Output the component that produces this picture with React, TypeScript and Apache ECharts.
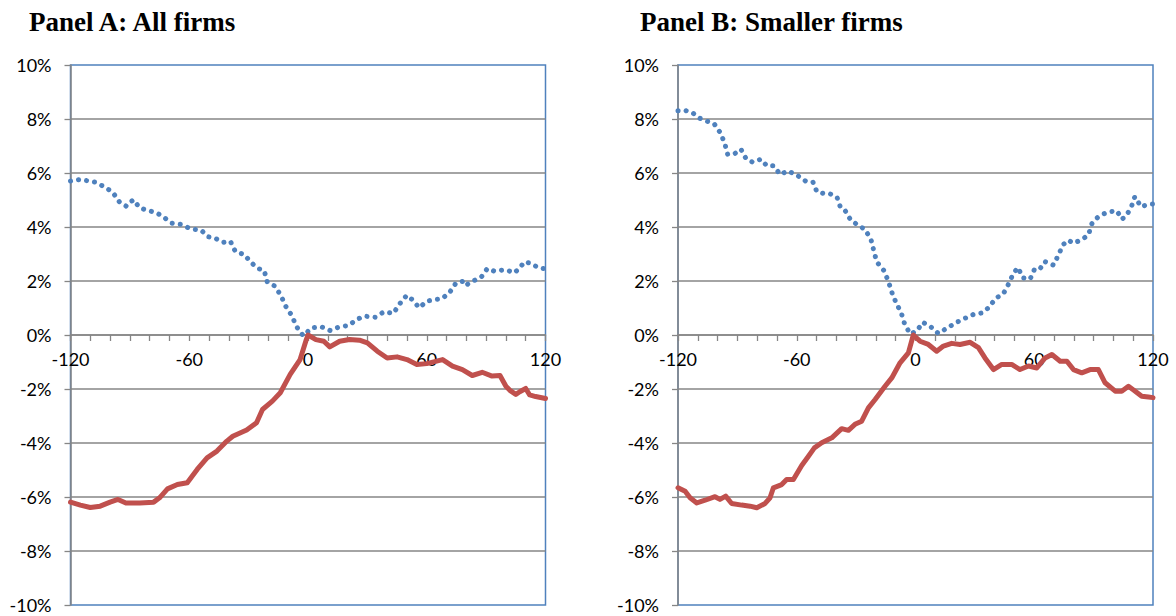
import React, { useEffect, useRef } from "react";
import * as echarts from "echarts";

// Panel A: All firms
const redDaysA = [-120, -115, -110, -105, -100, -96, -92, -85, -78, -75, -71, -66, -61, -56, -51, -46, -41, -38, -31, -26, -23, -18, -14, -9, -4, -1, 0, 4, 8, 11, 16, 21, 26, 30, 35, 40, 45, 50, 55, 60, 68, 73, 78, 83, 88, 93, 97, 100, 102, 105, 107, 110, 112, 115, 120];
const redValsA = [-6.19, -6.3, -6.39, -6.34, -6.19, -6.09, -6.22, -6.22, -6.19, -6.03, -5.7, -5.54, -5.47, -4.98, -4.55, -4.3, -3.93, -3.75, -3.52, -3.25, -2.76, -2.45, -2.14, -1.46, -0.91, -0.2, 0.0, -0.17, -0.23, -0.44, -0.23, -0.17, -0.19, -0.29, -0.6, -0.85, -0.81, -0.91, -1.09, -1.06, -0.91, -1.15, -1.28, -1.5, -1.38, -1.52, -1.5, -1.9, -2.05, -2.2, -2.1, -1.98, -2.22, -2.28, -2.35];
const blueDaysA = [-120, -115, -112, -107.5, -103, -98.7, -95.3, -91.8, -88.3, -85, -81.3, -76.6, -72.8, -68.9, -64.2, -59.3, -53.9, -50.5, -47.1, -42.9, -39.2, -36.7, -32.2, -29.1, -25.4, -22.1, -20.6, -16.7, -13.6, -11.3, -8.1, -5.9, -2.4, 1.9, 6.9, 11.1, 15.8, 20.4, 24.6, 28.3, 33.9, 38.4, 43.1, 46.5, 49.9, 52.7, 56.2, 60, 63.7, 67.6, 71.4, 74.8, 78.5, 79.7, 84, 87.5, 90.6, 94.2, 97.9, 100.7, 104.1, 106.8, 109.3, 112.7, 116.2, 120];
const blueValsA = [5.7, 5.76, 5.72, 5.66, 5.49, 5.29, 4.93, 4.77, 5.01, 4.71, 4.62, 4.53, 4.36, 4.14, 4.1, 3.93, 3.88, 3.64, 3.59, 3.43, 3.47, 3.09, 2.98, 2.71, 2.47, 2.38, 1.97, 1.81, 1.45, 1.07, 0.71, 0.32, -0.03, 0.27, 0.3, 0.17, 0.3, 0.35, 0.57, 0.7, 0.66, 0.86, 0.8, 1.17, 1.47, 1.31, 1.01, 1.25, 1.31, 1.34, 1.56, 1.93, 1.99, 1.84, 2.02, 2.14, 2.46, 2.36, 2.4, 2.4, 2.3, 2.46, 2.71, 2.65, 2.5, 2.45];

// Panel B: Smaller firms
const redDaysB = [-120, -116.4, -113.9, -110.5, -106.3, -101.3, -98.8, -95.9, -92.9, -87.8, -83.6, -80.2, -76, -73.5, -71.8, -67.6, -65.1, -61.7, -57.5, -54.1, -51.1, -47.4, -42.3, -37.3, -33.9, -30.6, -27.2, -23.8, -20.4, -15.4, -12, -7.8, -3.6, -1.1, 2.3, 6.5, 10.7, 14.1, 18.3, 22.5, 27.6, 31.8, 35.1, 39.4, 43.6, 48.6, 52.8, 57.1, 61.3, 65.5, 68.9, 73.1, 76.5, 79.8, 84, 88.2, 92.4, 95.8, 100.9, 104.2, 107.6, 111, 114.3, 117.7, 120];
const redValsB = [-5.66, -5.79, -6.03, -6.22, -6.12, -5.99, -6.09, -5.97, -6.24, -6.3, -6.34, -6.4, -6.24, -6.03, -5.66, -5.54, -5.35, -5.35, -4.83, -4.49, -4.18, -3.99, -3.81, -3.47, -3.53, -3.31, -3.19, -2.7, -2.39, -1.9, -1.59, -1.03, -0.66, 0.0, -0.23, -0.35, -0.6, -0.41, -0.31, -0.35, -0.27, -0.47, -0.85, -1.28, -1.09, -1.09, -1.28, -1.15, -1.22, -0.85, -0.72, -0.97, -0.97, -1.28, -1.4, -1.28, -1.28, -1.77, -2.08, -2.08, -1.9, -2.08, -2.27, -2.3, -2.32];
const blueDaysB = [-120, -116.1, -112.6, -109.4, -105.5, -101.8, -98.6, -96.4, -94.9, -91.5, -88.2, -85.6, -82.3, -78.1, -75.2, -71.8, -68.3, -64.6, -59.9, -55.5, -51.8, -49.8, -46.4, -43.5, -39.6, -37.8, -35.4, -32.6, -29.2, -25.5, -22.5, -21.1, -19.6, -16, -13.7, -12, -9.8, -7.2, -5.5, -2.7, 0.6, 3.7, 7.8, 11.5, 15.8, 20.3, 25, 29.2, 33.8, 37.2, 40.5, 44.4, 47.1, 49.4, 51.8, 54.2, 57.9, 60.2, 62.9, 65.3, 69.7, 72.2, 74.6, 77.2, 79.8, 84, 87.4, 89.1, 92.1, 94.5, 98.4, 101.8, 104.2, 106.2, 108.9, 110.8, 114, 117.2, 120];
const blueValsB = [8.31, 8.31, 8.23, 8.04, 7.92, 7.83, 7.49, 7.1, 6.69, 6.71, 6.88, 6.53, 6.4, 6.51, 6.27, 6.27, 5.94, 6.08, 5.92, 5.7, 5.66, 5.3, 5.24, 5.24, 5.09, 4.7, 4.59, 4.24, 4.08, 3.91, 3.54, 3.13, 2.71, 2.39, 1.99, 1.59, 1.19, 0.82, 0.41, 0.04, 0.14, 0.47, 0.3, 0.06, 0.25, 0.45, 0.62, 0.76, 0.82, 1.03, 1.36, 1.53, 1.9, 2.27, 2.5, 2.12, 2.07, 2.45, 2.45, 2.72, 2.59, 2.96, 3.35, 3.51, 3.4, 3.53, 3.71, 4.12, 4.36, 4.47, 4.57, 4.6, 4.29, 4.39, 4.71, 5.12, 4.75, 4.83, 4.85];

const titles = ["Panel A: All firms", "Panel B: Smaller firms"];
const xLabelStep = 60;

const pair = (xs: number[], ys: number[]) => xs.map((x, i) => [x, ys[i]]);

const GRAY = "#868686";
const RED = "#C0504D";
const BLUE = "#4F81BD";
const FONT = "Lato";
const GRID_H = 540;

export default function App() {
  const ref = useRef<HTMLDivElement>(null);
  useEffect(() => {
    if (!ref.current) return;
    const chart = echarts.init(ref.current, undefined, { renderer: "svg" });
    const grids = [
      { left: 70.5, top: 65, width: 475, height: GRID_H },
      { left: 678, top: 65, width: 475, height: GRID_H },
    ];
    const xAxis = grids.map((_, i) => ({
      type: "value",
      gridIndex: i,
      position: "bottom",
      offset: -GRID_H / 2,
      min: -120,
      max: 120,
      interval: 10,
      axisLine: { onZero: false, lineStyle: { color: GRAY, width: 1.5 } },
      axisTick: { show: true, length: 6, lineStyle: { color: GRAY, width: 1.3 } },
      splitLine: { show: false },
      axisLabel: {
        margin: 15,
        color: "#000",
        fontFamily: FONT,
        fontSize: 18,
        showMinLabel: true,
        showMaxLabel: true,
        hideOverlap: false,
        formatter: (v: number) => (v % xLabelStep === 0 ? String(v) : ""),
      },
    }));
    const yAxis = grids.map((_, i) => ({
      type: "value",
      gridIndex: i,
      min: -10,
      max: 10,
      interval: 2,
      axisLine: { show: true, onZero: false, lineStyle: { color: GRAY, width: 1.5 } },
      axisTick: { show: true, length: 6, lineStyle: { color: GRAY, width: 1.3 } },
      splitLine: {
        show: true,
        showMinLine: false,
        showMaxLine: false,
        lineStyle: { color: GRAY, width: 1.5 },
      },
      axisLabel: {
        margin: 19,
        color: "#000",
        fontFamily: FONT,
        fontSize: 18,
        formatter: (v: number) => `${v}%`,
      },
    }));
    const blueStyle = {
      color: BLUE,
      width: 5,
      type: [0.1, 8],
      cap: "round",
    };
    const series = [
      { d: pair(blueDaysA, blueValsA), idx: 0, kind: "blue" },
      { d: pair(redDaysA, redValsA), idx: 0, kind: "red" },
      { d: pair(blueDaysB, blueValsB), idx: 1, kind: "blue" },
      { d: pair(redDaysB, redValsB), idx: 1, kind: "red" },
    ].map((s) => ({
      type: "line",
      xAxisIndex: s.idx,
      yAxisIndex: s.idx,
      data: s.d,
      showSymbol: false,
      symbol: "none",
      z: s.kind === "red" ? 4 : 3,
      lineStyle:
        s.kind === "red"
          ? { color: RED, width: 5, join: "round", cap: "round" }
          : blueStyle,
      itemStyle: { color: s.kind === "red" ? RED : BLUE },
    }));
    const titleStyle = {
      fontFamily: "Liberation Serif",
      fontWeight: "bold",
      fontSize: 27,
      color: "#000",
    };
    chart.setOption({
      animation: false,
      backgroundColor: "#fff",
      title: [
        { text: titles[0], left: 24, top: 3, textStyle: titleStyle },
        { text: titles[1], left: 635, top: 3, textStyle: titleStyle },
      ],
      grid: grids.map((g) => ({
        ...g,
        show: true,
        outerBoundsMode: "none",
        containLabel: false,
        borderColor: BLUE,
        borderWidth: 1.5,
        backgroundColor: "transparent",
      })),
      xAxis,
      yAxis,
      series,
    });
    return () => chart.dispose();
  }, []);
  return (
    <div
      ref={ref}
      style={{ position: "fixed", left: 0, top: 0, width: 1176, height: 616 }}
    />
  );
}
